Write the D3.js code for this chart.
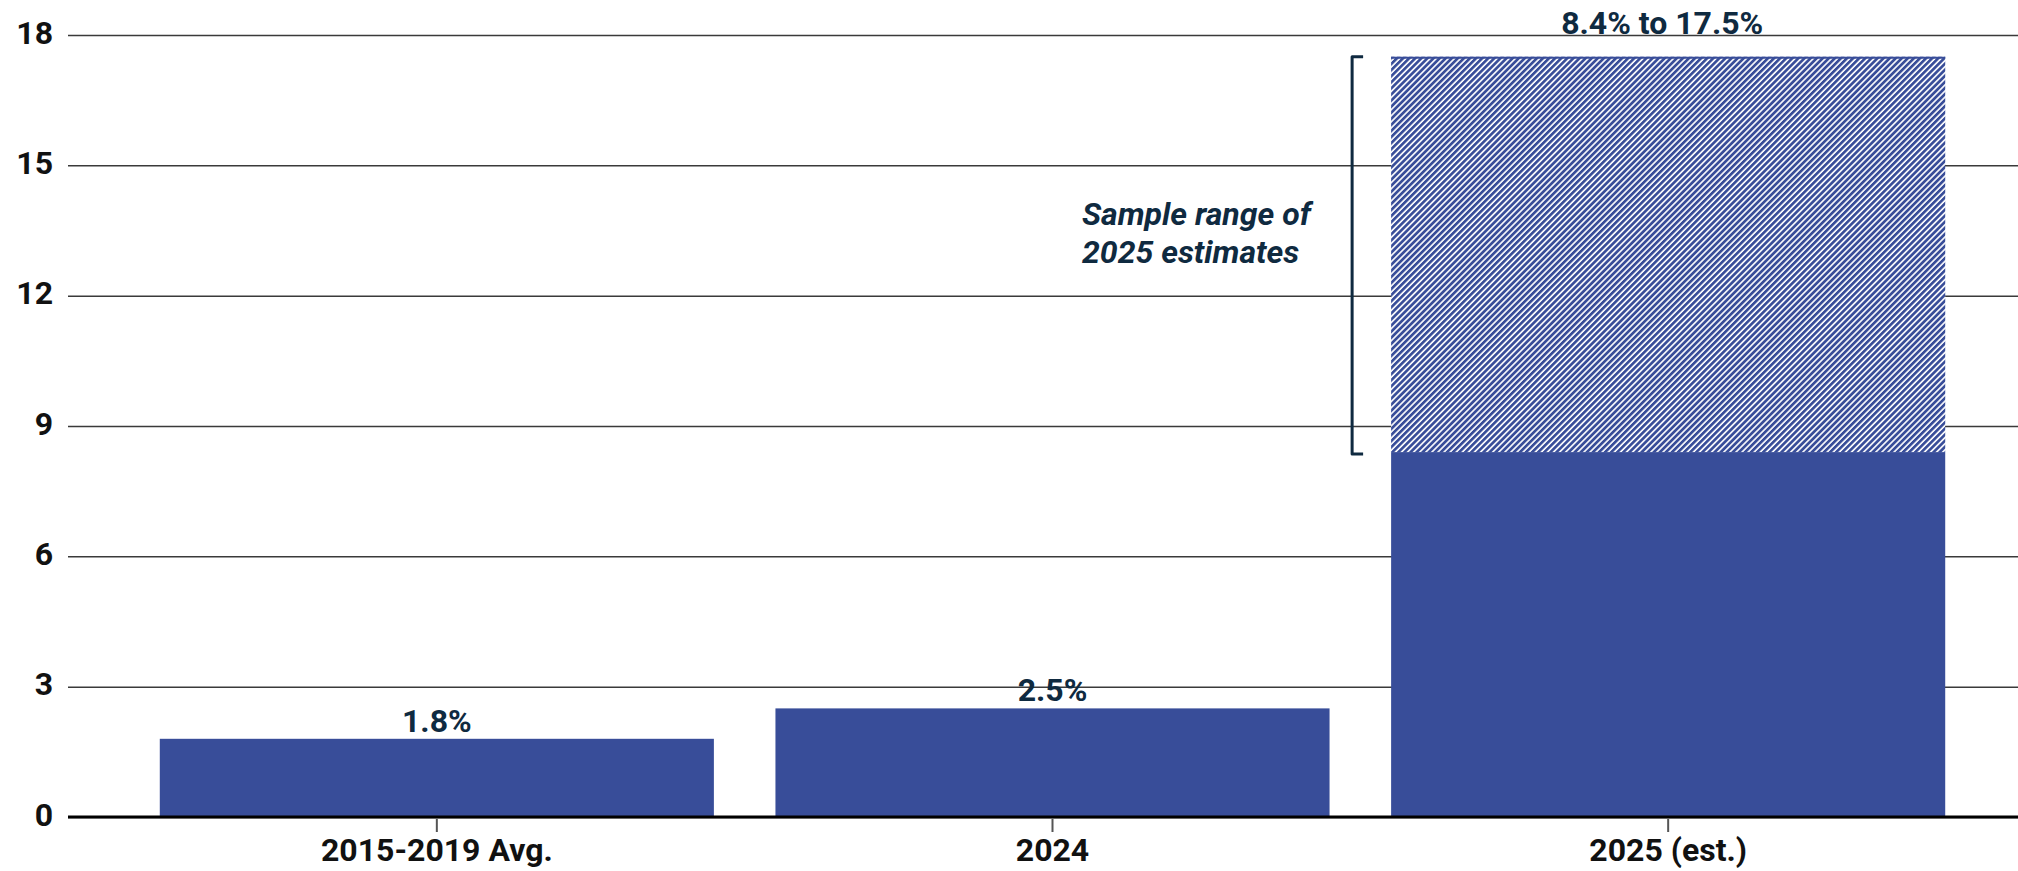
<!DOCTYPE html>
<html>
<head>
<meta charset="utf-8">
<script src="https://cdn.jsdelivr.net/npm/d3@7"></script>
<style>
  html, body { margin: 0; padding: 0; background: #fff; }
  svg { display: block; }
  text { font-family: Roboto, "Noto Sans", sans-serif; }
</style>
</head>
<body>
<svg id="chart" width="2018" height="871"></svg>
<script>
// Categories and values (percent)
const categories = ["2015-2019 Avg.", "2024", "2025 (est.)"];
const baseValues = [1.8, 2.5, 8.4];
const valueLabels = ["1.8%", "2.5%", null];
// Range of 2025 estimates
const rangeLow = 8.4;
const rangeHigh = 17.5;
const rangeLabel = "8.4% to 17.5%";
const rangeNote = ["Sample range of", "2025 estimates"];
const yTicks = [0, 3, 6, 9, 12, 15, 18];

const W = 2018, H = 871;
const plotLeft = 68, plotRight = 2018;
const barColor = "#384d99";
const ink = "#0f2a40";

const svg = d3.select("#chart");

const x = d3.scaleBand()
  .domain(categories)
  .range([129, 1976])
  .paddingInner(0.1)
  .paddingOuter(0.05);

const y = d3.scaleLinear()
  .domain([0, 18])
  .range([817, 35]);

// Hatch pattern for the estimate range
const defs = svg.append("defs");
const pat = defs.append("pattern")
  .attr("id", "hatch")
  .attr("patternUnits", "userSpaceOnUse")
  .attr("width", 4.3)
  .attr("height", 4.3)
  .attr("patternTransform", "rotate(45)");
pat.append("rect").attr("width", 4.3).attr("height", 4.3).attr("fill", "#fff");
pat.append("rect").attr("width", 2.7).attr("height", 4.3).attr("fill", barColor);

// Horizontal gridlines with y tick labels
const yAxis = svg.append("g")
  .attr("transform", `translate(${plotLeft},0)`)
  .call(d3.axisLeft(y)
    .tickValues(yTicks)
    .tickSize(-(plotRight - plotLeft))
    .tickPadding(15)
    .tickFormat(d3.format("d")));
yAxis.select(".domain").remove();
yAxis.selectAll(".tick line")
  .attr("stroke", "#3a3a3a")
  .attr("stroke-width", 1.5);
yAxis.selectAll(".tick text")
  .attr("dy", "0.26em")
  .attr("fill", "#111")
  .style("font-size", "32px")
  .style("font-weight", 700);

// Solid bars
svg.append("g").selectAll("rect")
  .data(categories)
  .join("rect")
  .attr("x", d => x(d))
  .attr("width", x.bandwidth())
  .attr("y", (d, i) => y(baseValues[i]))
  .attr("height", (d, i) => y(0) - y(baseValues[i]))
  .attr("fill", barColor);

// Hatched range bar on the estimate column
const estCat = categories[2];
svg.append("rect")
  .attr("x", x(estCat))
  .attr("width", x.bandwidth())
  .attr("y", y(rangeHigh))
  .attr("height", y(rangeLow) - y(rangeHigh))
  .attr("fill", "url(#hatch)");
svg.append("line")
  .attr("x1", x(estCat)).attr("x2", x(estCat) + x.bandwidth())
  .attr("y1", y(rangeHigh) + 1).attr("y2", y(rangeHigh) + 1)
  .attr("stroke", barColor).attr("stroke-width", 2);

// Zero line
svg.append("line")
  .attr("x1", plotLeft).attr("x2", plotRight)
  .attr("y1", y(0)).attr("y2", y(0))
  .attr("stroke", "#000").attr("stroke-width", 3);

// Category axis
const xAxis = svg.append("g")
  .attr("transform", `translate(0,${y(0)})`)
  .call(d3.axisBottom(x).tickSize(15).tickPadding(6));
xAxis.select(".domain").remove();
xAxis.selectAll(".tick line")
  .attr("y1", 2)
  .attr("stroke", "#555")
  .attr("stroke-width", 2);
xAxis.selectAll(".tick text")
  .attr("fill", "#111")
  .style("font-size", "32px")
  .style("font-weight", 700);

// Value labels above bars
svg.append("g").selectAll("text")
  .data(categories.filter((d, i) => valueLabels[i]))
  .join("text")
  .attr("x", d => x(d) + x.bandwidth() / 2)
  .attr("y", d => y(baseValues[categories.indexOf(d)]) - 7)
  .attr("text-anchor", "middle")
  .attr("fill", ink)
  .style("font-size", "32px")
  .style("font-weight", 700)
  .text(d => valueLabels[categories.indexOf(d)]);

svg.append("text")
  .attr("x", x(estCat) + x.bandwidth() / 2 - 6)
  .attr("y", y(rangeHigh) - 23)
  .attr("text-anchor", "middle")
  .attr("fill", ink)
  .style("font-size", "32px")
  .style("font-weight", 700)
  .text(rangeLabel);

// Bracket spanning the range
const bx = x(estCat) - 39;
const bracket = d3.path();
bracket.moveTo(bx + 11, y(rangeHigh));
bracket.lineTo(bx, y(rangeHigh));
bracket.lineTo(bx, y(rangeLow) + 2);
bracket.lineTo(bx + 11, y(rangeLow) + 2);
svg.append("path")
  .attr("d", bracket.toString())
  .attr("fill", "none")
  .attr("stroke", ink)
  .attr("stroke-width", 3)
  .attr("stroke-linejoin", "round");

// Note beside the bracket
const note = svg.append("text")
  .attr("x", 1082)
  .attr("y", 225)
  .attr("fill", ink)
  .style("font-size", "32px")
  .style("font-weight", 700)
  .style("font-style", "italic");
note.selectAll("tspan")
  .data(rangeNote)
  .join("tspan")
  .attr("x", 1082)
  .attr("dy", (d, i) => i === 0 ? 0 : 38)
  .text(d => d);
</script>
</body>
</html>
